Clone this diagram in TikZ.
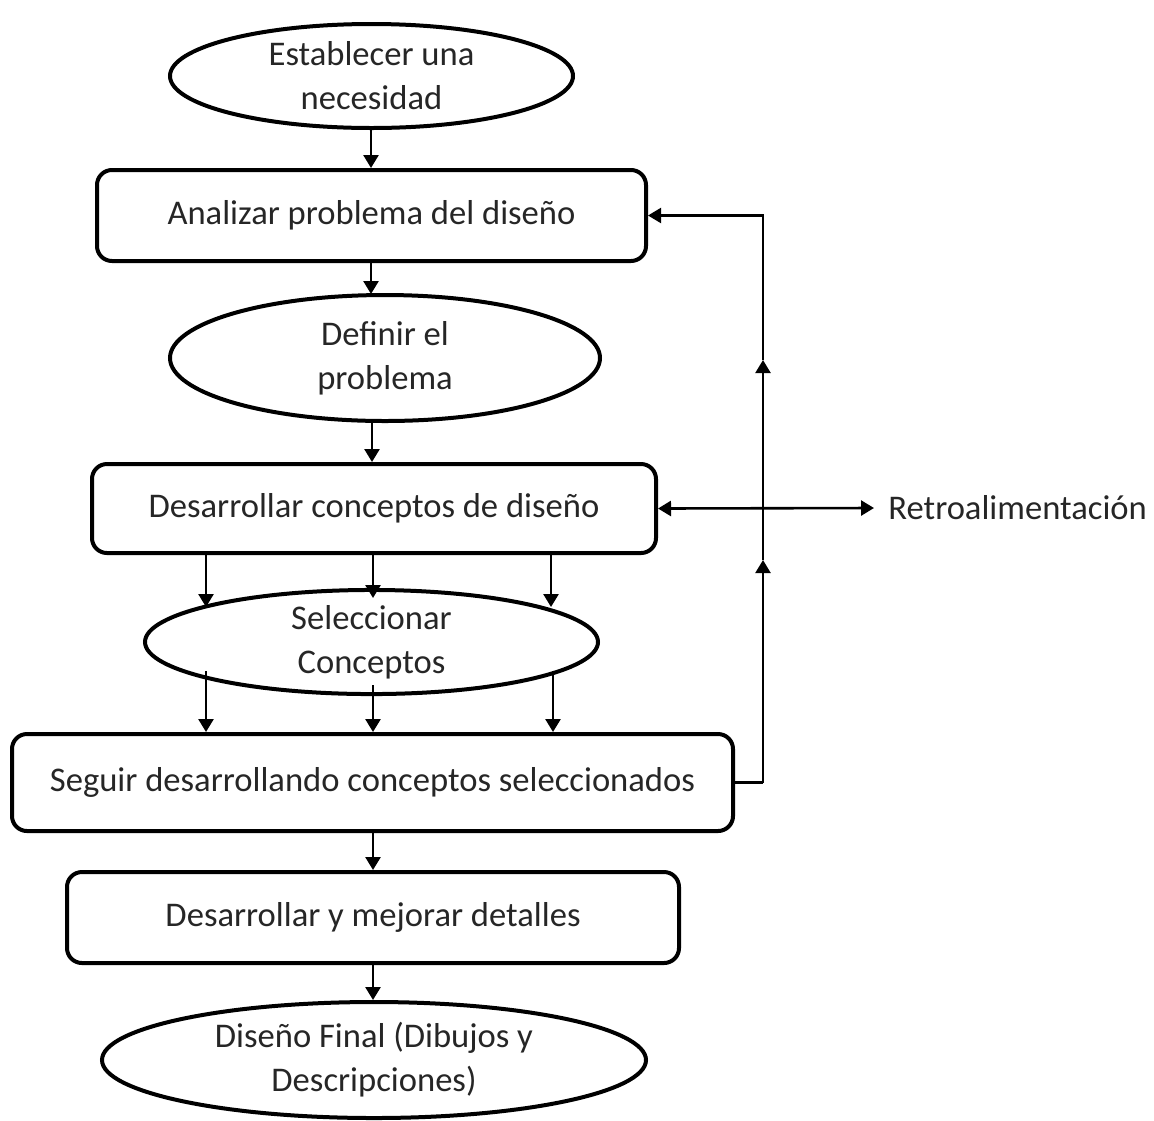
\documentclass[tikz,border=0pt]{standalone}
\usepackage{fontspec}
\setmainfont{Carlito}
\usetikzlibrary{shapes.geometric,arrows.meta}
\begin{document}
\begin{tikzpicture}[x=0.5pt,y=-0.5pt,
  every node/.style={font=\fontsize{17.3}{22}\selectfont, text=black!85},
  boxnode/.style={draw, line width=2pt, rounded corners=7.5pt, inner sep=0pt, align=center},
  ellnode/.style={draw, ellipse, line width=2pt, inner sep=0pt, align=center},
  arr/.style={line width=1.3pt, -{Triangle[length=6.5pt,width=7.5pt]}},
  darr/.style={line width=1.3pt, {Triangle[length=6.5pt,width=7.5pt]}-{Triangle[length=6.5pt,width=7.5pt]}},
  fb/.style={line width=1.1pt}]
\useasboundingbox (0,0) rectangle (1154,1120);

\node[ellnode, minimum width=201.5pt, minimum height=52pt] (E1) at (371.5,76) {Establecer una\\necesidad};
\node[boxnode, minimum width=274.5pt, minimum height=45.5pt] (R1) at (371.5,215.5) {Analizar problema del diseño};
\node[ellnode, minimum width=215pt, minimum height=63pt] (E2) at (385,358) {Definir el\\problema};
\node[boxnode, minimum width=282pt, minimum height=44.5pt] (R2) at (374,508.5) {Desarrollar conceptos de diseño};
\node[ellnode, minimum width=226.5pt, minimum height=43pt] (E3) at (371.5,642) {Seleccionar\\Conceptos};
\node[boxnode, minimum width=360.5pt, minimum height=48.5pt] (R3) at (372.5,782.5) {Seguir desarrollando conceptos seleccionados};
\node[boxnode, minimum width=306pt, minimum height=45.5pt] (R4) at (373,917.5) {Desarrollar y mejorar detalles};
\node[ellnode, minimum width=272pt, minimum height=58pt] (E4) at (374,1060) {Diseño Final (Dibujos y\\Descripciones)};
\node[anchor=west, inner xsep=7pt, inner ysep=0pt] (retro) at (874,508) {Retroalimentación};

% main flow
\draw[arr] (E1.south -| 371,0) -- (R1.north -| 371,0);
\draw[arr] (R1.south -| 371,0) -- (371,294);
\draw[arr] (E2.south -| 372,0) -- (R2.north -| 372,0);

% R2 -> E3
\coordinate (t1) at (206,607);
\coordinate (t2) at (373,598);
\coordinate (t3) at (551,607);
\draw[arr] (R2.south -| t1) -- (t1);
\draw[arr] (R2.south -| t2) -- (t2);
\draw[arr] (R2.south -| t3) -- (t3);

% E3 -> R3
\coordinate (s1) at (206,671);
\coordinate (s2) at (373,685);
\coordinate (s3) at (553,671);
\draw[arr] (s1) -- (R3.north -| s1);
\draw[arr] (s2) -- (R3.north -| s2);
\draw[arr] (s3) -- (R3.north -| s3);

\draw[arr] (R3.south -| 373,0) -- (R4.north -| 373,0);
\draw[arr] (R4.south -| 373,0) -- (E4.north -| 373,0);

% feedback loop
\coordinate (f1) at (763,782.5);
\coordinate (f2) at (763,560);
\coordinate (f3) at (763,360);
\coordinate (f4) at (763,215.5);
\draw[fb] (R3.east) -- (f1);
\draw[fb, arr, line width=1.1pt] (f1) -- (f2);
\draw[fb, arr, line width=1.1pt] (f2) -- (f3);
\draw[fb, arr, line width=1.1pt] (f3) -- (f4) -- (R1.east);

\draw[darr] (R2.east) -- (retro.west);
\end{tikzpicture}
\end{document}
